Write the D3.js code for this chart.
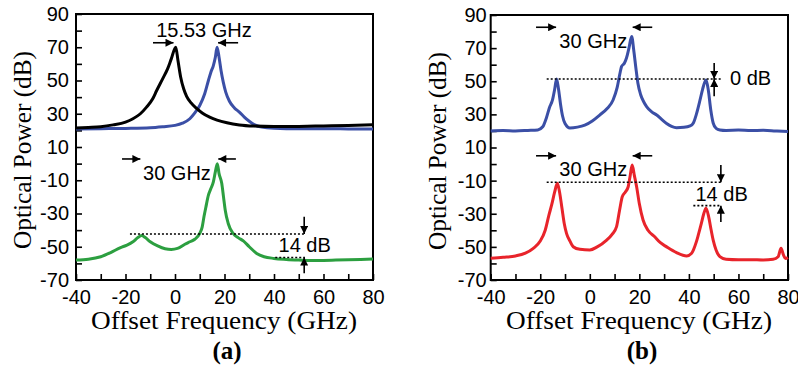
<!DOCTYPE html>
<html>
<head>
<meta charset="utf-8">
<script src="https://cdn.jsdelivr.net/npm/d3@7"></script>
<style>
  body { margin: 0; background: #fff; }
</style>
</head>
<body>
<svg id="chart" width="798" height="367"></svg>
<script>
// [offset frequency (GHz), optical power (dB)]

// (a) top: two free running lasers
const blackA = [[-40,21.5],[-35,21.8],[-30,22.2],[-25,23.3],[-20,25],[-17,27],[-14,30],[-11.5,34],[-9,39],[-7.4,44],
  [-5,51],[-3,57],[-1.5,63],[0.3,70],[1.2,62],[2.3,52],[3.5,45],[4.7,40.5],[6.5,36.5],[8.7,33.2],[11,30.5],[14,28],
  [17,26.2],[21,24.6],[26,23.3],[32,22.6],[40,22.3],[50,22.4],[60,22.7],[70,23],[80,23.4]];
const blueA = [[-40,20.8],[-30,21],[-20,21.2],[-10,21.6],[-5,22.2],[0,23],[3,24.3],[6,27],[8,30.5],[10,35],[12,42],
  [13.5,50],[14.5,55],[15.5,59],[16.3,64],[17,70],[17.8,64],[18.6,56],[19.5,49],[20.5,43],[22,37.5],[24,33.5],[26,31],
  [28,28],[30,25.5],[32,23.5],[35,22],[40,21.3],[50,21],[60,21],[70,20.9],[80,20.8]];
// (a) bottom: injection locked
const greenA = [[-40,-58],[-35,-57.5],[-30,-56],[-26,-53.5],[-22,-50.5],[-19.4,-49],[-17,-47],[-15,-44.5],[-13.5,-43.3],
  [-12,-44.5],[-10,-47],[-7,-49.5],[-4,-51.2],[-1.5,-51.6],[1,-51],[4,-48.5],[6,-47],[8,-45.5],[10,-42],[11,-38],
  [11.7,-32],[12.5,-26],[13.5,-19],[14.5,-15],[15.5,-11],[16.3,-5],[17.1,0],[17.8,-6],[18.9,-12],[19.6,-20],[20.3,-28],
  [21.5,-36],[23.5,-42],[25.5,-44.5],[27.6,-46.5],[30,-50],[33,-54],[36,-56],[40,-57],[45,-57.6],[50,-58],[55,-58.3],
  [60,-58.2],[65,-58],[70,-57.8],[75,-57.6],[80,-57.4]];

// (b) top
const blueB = [[-40,20],[-35,20.2],[-30,20],[-25,20.3],[-21,20.6],[-19,22.5],[-17.5,28],[-16.3,34],[-15,39],[-14.2,45],
  [-13.4,51.4],[-12.6,45],[-11.8,36],[-11,29],[-10,24.5],[-8,21.8],[-5,22.3],[-2,23.5],[1,26],[4,29.6],[7,33.5],
  [9.4,38.7],[11,46],[12.2,55],[12.8,58.8],[14,61],[14.8,64],[15.8,70],[16.9,77],[17.8,68],[18.6,58],[19.4,49],
  [20.5,42],[21.8,37.5],[23,34.6],[25,31.5],[27,29.6],[29,27],[31,24.5],[33,22.8],[35,22],[38,22.2],[40.5,23],
  [41.8,24.8],[43,30],[44.5,38.7],[45.5,45],[46.9,50.7],[47.8,45],[48.8,33],[49.8,24.8],[51,21.5],[52.5,20.6],
  [55,20.3],[60,20.5],[65,20.2],[70,20.4],[75,20],[80,19.6]];
// (b) bottom
const redB = [[-40,-56.9],[-35,-56.3],[-30,-55.5],[-26,-53.8],[-22.8,-50.9],[-20,-46.5],[-18,-40],[-16.5,-30.8],
  [-15.4,-24.7],[-14.2,-17],[-13.1,-11.6],[-12.2,-17],[-11.2,-27],[-10.3,-36],[-9.4,-41.8],[-8,-46.5],[-6.7,-49.9],
  [-4,-51.5],[0,-51.9],[3,-50],[6.8,-45.9],[9,-42.5],[10.8,-37.8],[12,-28],[13.1,-19.7],[14.3,-17],[15.5,-13.7],
  [16.3,-7],[17.1,-0.6],[18,-7],[18.9,-13.7],[20,-24],[21.5,-33.8],[23.5,-40],[26.2,-43.9],[28.5,-47.5],[31,-50],
  [35,-53.5],[39.1,-55.5],[41,-54],[41.8,-51.9],[43,-47],[43.8,-42.8],[45,-36],[46,-30],[46.9,-26.7],[48,-32],
  [49,-40],[49.8,-45.9],[51,-52],[52.5,-55.9],[55,-57.5],[60,-57.8],[65,-57.7],[70,-57.9],[74,-57.5],[76,-56],
  [77.2,-50.9],[78.2,-55],[79,-57],[80,-56.5]];

const xTicks = d3.range(-40, 81, 10);
const xTickLabels = [-40, -20, 0, 20, 40, 60, 80];
const yTicks = d3.range(-70, 91, 10);
const yTickLabels = [90, 70, 50, 30, 10, -10, -30, -50, -70];

const sans = "Liberation Sans, Arial, sans-serif";
const serif = "Liberation Serif, Times New Roman, Times, DejaVu Serif, serif";

const svg = d3.select('#chart');

// arrow head used by every annotation arrow
svg.append('defs').append('marker')
  .attr('id', 'head')
  .attr('viewBox', '0 0 10 10')
  .attr('refX', 10)
  .attr('refY', 5)
  .attr('markerWidth', 9)
  .attr('markerHeight', 8)
  .attr('markerUnits', 'userSpaceOnUse')
  .attr('orient', 'auto')
  .append('path')
  .attr('d', 'M0,0L10,5L0,10z')
  .attr('fill', '#000');

function drawPanel(p) {
  const x = d3.scaleLinear().domain([-40, 80]).range([p.left, p.right]);
  const y = d3.scaleLinear().domain([-70, 90]).range([p.bottom, p.top]);
  const g = svg.append('g');

  // x axis, ticks pointing inside
  const gx = g.append('g')
    .attr('transform', `translate(0,${p.bottom})`)
    .call(d3.axisBottom(x).tickValues(xTicks).tickSizeInner(-6).tickSizeOuter(0).tickPadding(10)
      .tickFormat(d => xTickLabels.includes(d) ? String(d) : ''));
  gx.select('.domain').remove();
  gx.selectAll('line').attr('stroke-width', 1.6);
  gx.selectAll('text').style('font-family', sans).style('font-size', '20px').attr('fill', '#000');

  // y axis
  const gy = g.append('g')
    .attr('transform', `translate(${p.left},0)`)
    .call(d3.axisLeft(y).tickValues(yTicks).tickSizeInner(-6).tickSizeOuter(0).tickPadding(p.yPad)
      .tickFormat(d => yTickLabels.includes(d) ? String(d) : ''));
  gy.select('.domain').remove();
  gy.selectAll('line').attr('stroke-width', 1.6);
  gy.selectAll('text').style('font-family', sans).style('font-size', '20px').attr('fill', '#000');

  // frame
  g.append('rect')
    .attr('x', p.left).attr('y', p.top)
    .attr('width', p.right - p.left).attr('height', p.bottom - p.top)
    .attr('fill', 'none').attr('stroke', '#000').attr('stroke-width', 2);

  // spectra
  const line = d3.line().x(d => x(d[0])).y(d => y(d[1])).curve(d3.curveMonotoneX);
  p.series.forEach(s => {
    g.append('path')
      .datum(s.data)
      .attr('fill', 'none')
      .attr('stroke', s.color)
      .attr('stroke-width', 3)
      .attr('stroke-linejoin', 'round')
      .attr('d', line);
  });

  // dotted reference lines
  p.dotted.forEach(d => {
    g.append('line')
      .attr('x1', x(d[0])).attr('x2', x(d[1]))
      .attr('y1', y(d[2])).attr('y2', y(d[2]))
      .attr('stroke', '#000').attr('stroke-width', 1.6)
      .attr('stroke-dasharray', '2,2');
  });

  // arrows [x1, y1, x2, y2] in data units, head at the second point
  p.arrows.forEach(a => {
    g.append('line')
      .attr('x1', x(a[0])).attr('y1', y(a[1]))
      .attr('x2', x(a[2])).attr('y2', y(a[3]))
      .attr('stroke', '#000').attr('stroke-width', 1.6)
      .attr('marker-end', 'url(#head)');
  });

  p.notes.forEach(n => {
    g.append('text')
      .attr('x', x(n.x)).attr('y', y(n.y))
      .attr('text-anchor', n.anchor || 'middle')
      .style('font-family', sans).style('font-size', '20px')
      .text(n.text);
  });

  // axis titles
  g.append('text')
    .attr('transform', `translate(${p.yLabelX},${p.yLabelY}) rotate(-90)`)
    .attr('text-anchor', 'middle')
    .style('font-family', serif).style('font-size', '26px')
    .attr('textLength', 198).attr('lengthAdjust', 'spacingAndGlyphs')
    .text('Optical Power (dB)');

  g.append('text')
    .attr('x', p.xLabelX).attr('y', 329)
    .attr('text-anchor', 'middle')
    .style('font-family', serif).style('font-size', '26px')
    .attr('textLength', 266).attr('lengthAdjust', 'spacingAndGlyphs')
    .text('Offset Frequency (GHz)');

  g.append('text')
    .attr('x', p.tagX).attr('y', 359)
    .attr('text-anchor', 'middle')
    .style('font-family', serif).style('font-size', '25px').style('font-weight', 'bold')
    .text(p.tag);
}

drawPanel({
  left: 76, right: 373, top: 14, bottom: 280, yPad: 7,
  yLabelX: 31, yLabelY: 150, xLabelX: 224, tagX: 227, tag: '(a)',
  series: [
    { data: blueA, color: '#3b4fa6' },
    { data: blackA, color: '#000000' },
    { data: greenA, color: '#2c9f40' }
  ],
  dotted: [[-18.2, 52.5, -42.3], [40.5, 52.5, -56.5]],
  arrows: [
    [-8.9, 72.7, -0.6, 72.7], [25.5, 72.7, 17.4, 72.7],
    [-21.4, 2.8, -14, 2.8], [24.6, 2.8, 17.5, 2.8],
    [52.2, -32, 52.2, -42.3], [52.2, -66, 52.2, -56.5]
  ],
  notes: [
    { x: 11.7, y: 76.3, text: '15.53 GHz' },
    { x: 0.8, y: -9.8, text: '30 GHz' },
    { x: 52.4, y: -53, text: '14 dB' }
  ]
});

drawPanel({
  left: 490.7, right: 788, top: 15, bottom: 280, yPad: 4,
  yLabelX: 446, yLabelY: 151, xLabelX: 639, tagX: 642, tag: '(b)',
  series: [
    { data: blueB, color: '#3b4fa6' },
    { data: redB, color: '#e8242b' }
  ],
  dotted: [[-17.4, 53, 51.4], [-17.4, 53, -11], [41.8, 53, -25.1]],
  arrows: [
    [-21.7, 82.6, -13.6, 82.6], [25.2, 82.6, 17.3, 82.6],
    [50.2, 61, 50.2, 51.4], [50.2, 41, 50.2, 51.4],
    [-21.7, 5, -13.6, 5], [25.2, 5, 17.3, 5],
    [52.9, -0.6, 52.9, -11], [52.9, -35, 52.9, -25.1]
  ],
  notes: [
    { x: 1.4, y: 69.9, text: '30 GHz' },
    { x: 56.6, y: 47.7, text: '0 dB', anchor: 'start' },
    { x: 1.4, y: -7.2, text: '30 GHz' },
    { x: 53.2, y: -22.1, text: '14 dB' }
  ]
});
</script>
</body>
</html>
